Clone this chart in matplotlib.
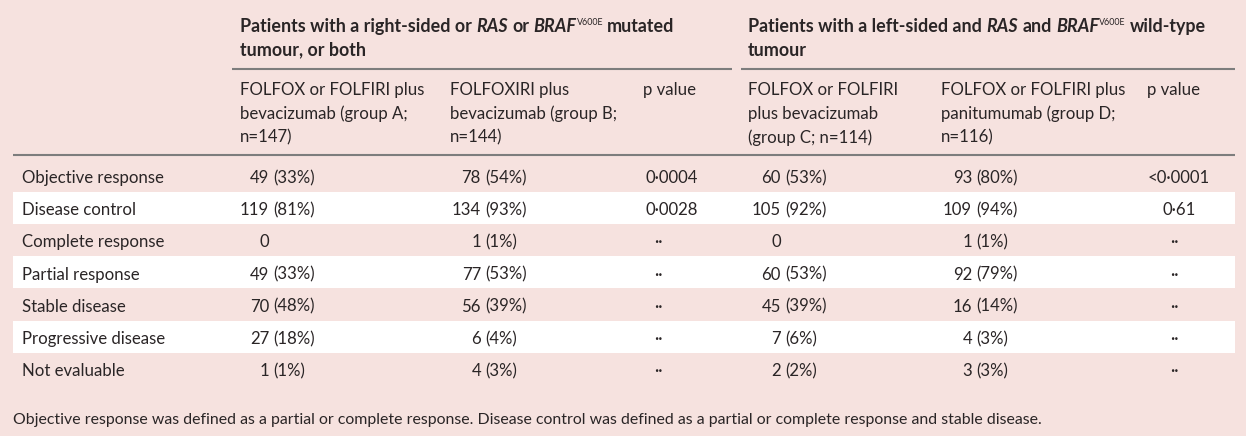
import matplotlib
matplotlib.use("Agg")
import matplotlib.pyplot as plt

# table content
row_labels = ["Objective response", "Disease control", "Complete response", "Partial response",
              "Stable disease", "Progressive disease", "Not evaluable"]
a_n = [49, 119, 0, 49, 70, 27, 1]
a_pct = [33, 81, None, 33, 48, 18, 1]
b_n = [78, 134, 1, 77, 56, 6, 4]
b_pct = [54, 93, 1, 53, 39, 4, 3]
c_n = [60, 105, 0, 60, 45, 7, 2]
c_pct = [53, 92, None, 53, 39, 6, 2]
d_n = [93, 109, 1, 92, 16, 4, 3]
d_pct = [80, 94, 1, 79, 14, 3, 3]
p_ab = ["0·0004", "0·0028", "··", "··", "··", "··", "··"]
p_cd = ["<0·0001", "0·61", "··", "··", "··", "··", "··"]

group1 = [[("Patients with a right-sided or", "b"), ("RAS", "bi"), ("or", "b"), ("BRAF", "bi"),
           ("V600E", "sup"), ("mutated", "b")],
          [("tumour, or both", "b")]]
group2 = [[("Patients with a left-sided and", "b"), ("RAS", "bi"), ("and", "b"), ("BRAF", "bi"),
           ("V600E", "sup"), ("wild-type", "b")],
          [("tumour", "b")]]
col_heads = [["FOLFOX or FOLFIRI plus", "bevacizumab (group A;", "n=147)"],
             ["FOLFOXIRI plus", "bevacizumab (group B;", "n=144)"],
             ["p value"],
             ["FOLFOX or FOLFIRI", "plus bevacizumab", "(group C; n=114)"],
             ["FOLFOX or FOLFIRI plus", "panitumumab (group D;", "n=116)"],
             ["p value"]]
footnote = ("Objective response was defined as a partial or complete response. "
            "Disease control was defined as a partial or complete response and stable disease.")

FONT = "Lato"
INK = "#2a2526"
BG = "#f6e2df"

fig = plt.figure(figsize=(12.46, 4.36), dpi=100, facecolor=BG)
ax = fig.add_axes([0, 0, 1, 1])
ax.set_xlim(0, 1246)
ax.set_ylim(436, 0)
ax.axis("off")
ax.set_facecolor(BG)
renderer = fig.canvas.get_renderer()


def width(s, **kw):
    t = ax.text(0, 0, s, family=FONT, **kw)
    w = t.get_window_extent(renderer).width
    t.remove()
    return w


# fit sizes to the measured widths in the reference
fs = 10 * 143 / width("Objective response", fontsize=10)
fs_foot = 10 * 1027 / width(footnote, fontsize=10)


def style(kind, size):
    if kind == "b":
        return dict(fontsize=size, fontweight="bold")
    if kind == "bi":
        return dict(fontsize=size, fontweight="bold", fontstyle="italic")
    return dict(fontsize=size * 0.5)


def rich(x, y, parts, size, draw=True):
    sp = width("a a", fontsize=size, fontweight="bold") - width("aa", fontsize=size, fontweight="bold")
    for i, (s, kind) in enumerate(parts):
        if i > 0 and kind != "sup":
            x += sp
        kw = style(kind, size)
        dy = -size * 0.55 if kind == "sup" else 0
        if draw:
            ax.text(x, y + dy, s, family=FONT, va="baseline", ha="left", color=INK, **kw)
        x += width(s, **kw)
    return x


fs_head = 10 * 433 / (rich(0, 0, group1[0], 10, draw=False))

# row bands
row_y = [183 + 32.2 * i for i in range(len(row_labels))]
for i, y in enumerate(row_y):
    if i % 2 == 1:
        ax.fill_between([13, 1235], y - 23.5, y + 8.5, color="white", lw=0, zorder=0)

# group headers
for x, lines in [(240, group1), (748, group2)]:
    for j, parts in enumerate(lines):
        rich(x, 32 + 23.5 * j, parts, fs_head)

ax.plot([232, 732], [69, 69], color="#7d7d7d", lw=1.5, solid_capstyle="butt")
ax.plot([741, 1235], [69, 69], color="#7d7d7d", lw=1.5, solid_capstyle="butt")
ax.plot([13, 1235], [155, 155], color="#7d7d7d", lw=1.5, solid_capstyle="butt")

# column headers
for x, lines in zip([240, 450, 643, 748, 941, 1147], col_heads):
    for j, s in enumerate(lines):
        ax.text(x, 95 + 23.8 * j, s, family=FONT, fontsize=fs, color=INK, va="baseline", ha="left")

# body
sp_body = width("a a", fontsize=fs) - width("aa", fontsize=fs)
for i, y in enumerate(row_y):
    ax.text(22, y, row_labels[i], family=FONT, fontsize=fs, color=INK, va="baseline")
    for xn, ns, ps in [(269, a_n, a_pct), (481, b_n, b_pct), (781, c_n, c_pct), (972, d_n, d_pct)]:
        ax.text(xn, y, str(ns[i]), family=FONT, fontsize=fs, color=INK, va="baseline", ha="right")
        if ps[i] is not None:
            ax.text(xn + sp_body, y, "(%d%%)" % ps[i], family=FONT, fontsize=fs, color=INK,
                    va="baseline", ha="left")
    for xv, xd, vals in [(672, 658, p_ab), (1179, 1174, p_cd)]:
        v = vals[i]
        ax.text(xd if v == "··" else xv, y, v, family=FONT, fontsize=fs, color=INK,
                va="baseline", ha="center")

ax.text(13, 424, footnote, family=FONT, fontsize=fs_foot, color=INK, va="baseline", ha="left")

fig.savefig("out.png", dpi=100, facecolor=BG)
